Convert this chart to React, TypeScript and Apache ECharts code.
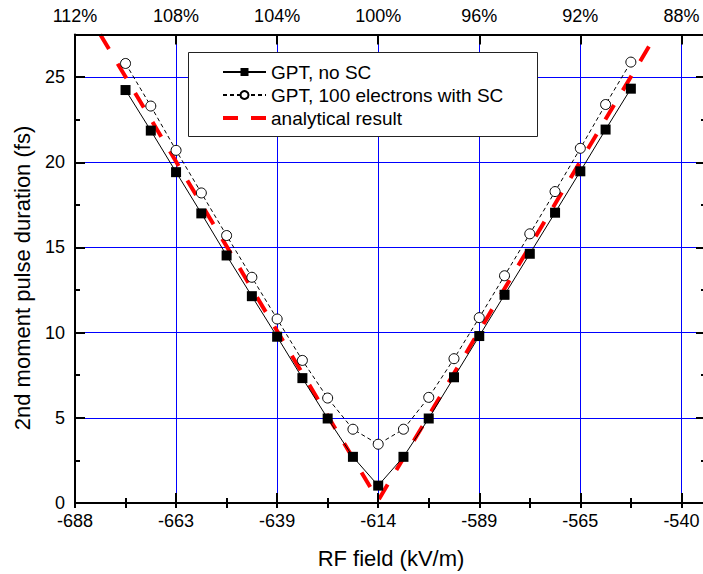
import React, { useEffect, useRef } from 'react';
import * as echarts from 'echarts';

// RF field values (kV/m) at 110% ... 90% of -614 kV/m
const rfField = [
  -675.4, -669.26, -663.12, -656.98, -650.84, -644.7, -638.56, -632.42, -626.28, -620.14,
  -614, -607.86, -601.72, -595.58, -589.44, -583.3, -577.16, -571.02, -564.88, -558.74, -552.6,
];
const gptNoSC = [
  24.24, 21.86, 19.42, 17.0, 14.53, 12.14, 9.76, 7.33, 4.96, 2.71,
  1.02, 2.71, 4.96, 7.38, 9.8, 12.22, 14.63, 17.04, 19.47, 21.92, 24.32,
];
const gptSC = [
  25.8, 23.3, 20.7, 18.2, 15.7, 13.25, 10.8, 8.37, 6.16, 4.33,
  3.45, 4.33, 6.2, 8.47, 10.88, 13.34, 15.8, 18.28, 20.82, 23.39, 25.88,
];
const analyticalField = [-681.54, -614, -546.46];
const analyticalValue = [27.5, 0.15, 27.5];

const bottomTickLabels = ['-688', '-663', '-639', '-614', '-589', '-565', '-540'];
const topTickLabels = ['112%', '108%', '104%', '100%', '96%', '92%', '88%'];
const yTickLabels = ['0', '5', '10', '15', '20', '25'];
const seriesNames = ['GPT, no SC', 'GPT, 100 electrons with SC', 'analytical result'];
const xTitle = 'RF field (kV/m)';
const yTitle = '2nd moment pulse duration (fs)';

const X_MIN = -687.68;
const X_MAX = -534.34;
const X_STEP = 24.56;
const Y_MIN = 0;
const Y_MAX = 27.5;
const Y_STEP = 5;

const FONT = '"Liberation Sans", Arial, Helvetica, sans-serif';

const pick = (labels: string[], min: number, step: number) => (v: number) => {
  const i = Math.round((v - min) / step);
  if (Math.abs(v - (min + i * step)) > 0.05) return '';
  return labels[i] ?? '';
};

export default function App() {
  const ref = useRef<HTMLDivElement>(null);

  useEffect(() => {
    document.body.style.margin = '0';
    if (!ref.current) return;
    const chart = echarts.init(ref.current, undefined, { renderer: 'svg' });

    const gridBox = { left: 75, right: -3, top: 34.5, bottom: 71, containLabel: false, outerBoundsMode: 'none' };
    const black = '#000';
    const blue = '#0000ff';

    const xBase = { type: 'value', min: X_MIN, max: X_MAX };
    const yBase = { type: 'value', min: Y_MIN, max: Y_MAX };
    const hidden = {
      axisLine: { show: false },
      axisTick: { show: false },
      axisLabel: { show: false },
      splitLine: { show: false },
    };
    const majorTick = { show: true, inside: true, length: 10, lineStyle: { color: black, width: 2 } };
    const minorTick = { show: true, inside: true, length: 5, lineStyle: { color: black, width: 2 } };
    const axisLine = { show: true, onZero: false, lineStyle: { color: black, width: 2 } };
    const labelStyle = { color: black, fontSize: 18, fontFamily: FONT };

    const option: any = {
      animation: false,
      backgroundColor: '#fff',
      grid: [gridBox, gridBox, gridBox],
      xAxis: [
        { ...xBase, ...hidden, gridIndex: 0, position: 'bottom', interval: X_STEP,
          splitLine: { show: true, lineStyle: { color: blue, width: 1 } } },
        { ...xBase, ...hidden, gridIndex: 1, position: 'bottom', interval: X_STEP, z: 3,
          axisLine, axisTick: majorTick,
          axisLabel: { show: true, margin: 9, ...labelStyle, formatter: pick(bottomTickLabels, X_MIN, X_STEP) } },
        { ...xBase, ...hidden, gridIndex: 1, position: 'top', interval: X_STEP, z: 3,
          axisLine, axisTick: majorTick,
          axisLabel: { show: true, margin: 10, ...labelStyle, formatter: pick(topTickLabels, X_MIN, X_STEP) } },
        { ...xBase, ...hidden, gridIndex: 2, position: 'bottom', interval: X_STEP / 2, z: 3, axisTick: minorTick },
        { ...xBase, ...hidden, gridIndex: 2, position: 'top', interval: X_STEP / 2, z: 3, axisTick: minorTick },
      ],
      yAxis: [
        { ...yBase, ...hidden, gridIndex: 0, position: 'left', interval: Y_STEP,
          splitLine: { show: true, lineStyle: { color: blue, width: 1 } } },
        { ...yBase, ...hidden, gridIndex: 1, position: 'left', interval: Y_STEP, z: 3,
          axisLine, axisTick: majorTick,
          axisLabel: { show: true, margin: 10, ...labelStyle, formatter: pick(yTickLabels, Y_MIN, Y_STEP) } },
        { ...yBase, ...hidden, gridIndex: 1, position: 'right', interval: Y_STEP, z: 3,
          axisLine, axisTick: majorTick },
        { ...yBase, ...hidden, gridIndex: 2, position: 'left', interval: Y_STEP / 2, z: 3, axisTick: minorTick },
        { ...yBase, ...hidden, gridIndex: 2, position: 'right', interval: Y_STEP / 2, z: 3, axisTick: minorTick },
      ],
      graphic: [
        {
          type: 'rect',
          z: 8,
          shape: { x: 188.5, y: 52.5, width: 349, height: 84 },
          style: { fill: '#fff', stroke: '#222', lineWidth: 1 },
        },
        {
          type: 'text',
          x: 391,
          y: 558,
          style: { text: xTitle, font: `22px ${FONT}`, fill: black, textAlign: 'center', textVerticalAlign: 'middle' },
        },
        {
          type: 'text',
          x: 22,
          y: 278,
          rotation: Math.PI / 2,
          style: { text: yTitle, font: `22px ${FONT}`, fill: black, textAlign: 'center', textVerticalAlign: 'middle' },
        },
      ],
      legend: {
        orient: 'vertical',
        left: 188,
        top: 51.5,
        z: 20,
        backgroundColor: 'transparent',
        borderWidth: 0,
        padding: [11, 10, 8, 34],
        itemWidth: 43,
        itemHeight: 10,
        itemGap: 4,
        selectedMode: false,
        textStyle: { color: black, fontSize: 19, fontFamily: FONT },
        data: [
          { name: seriesNames[0] },
          { name: seriesNames[1] },
          { name: seriesNames[2], icon: 'path://M0,0h15v4h-15zM28,0h15v4h-15z' },
        ],
      },
      series: [
        {
          name: seriesNames[2],
          type: 'line',
          xAxisIndex: 0,
          yAxisIndex: 0,
          data: analyticalField.map((x, i) => [x, analyticalValue[i]]),
          symbol: 'none',
          clip: true,
          lineStyle: { color: '#ff0000', width: 4, type: [17, 17] },
          itemStyle: { color: '#ff0000' },
          z: 2,
        },
        {
          name: seriesNames[1],
          type: 'line',
          xAxisIndex: 0,
          yAxisIndex: 0,
          data: rfField.map((x, i) => [x, gptSC[i]]),
          symbol: 'circle',
          symbolSize: 10,
          lineStyle: { color: black, width: 1, type: [4, 3] },
          itemStyle: { color: '#fff', borderColor: black, borderWidth: 1 },
          z: 3,
        },
        {
          name: seriesNames[0],
          type: 'line',
          xAxisIndex: 0,
          yAxisIndex: 0,
          data: rfField.map((x, i) => [x, gptNoSC[i]]),
          symbol: 'rect',
          symbolSize: 10,
          lineStyle: { color: black, width: 1 },
          itemStyle: { color: black },
          z: 4,
        },
      ],
    };

    chart.setOption(option);
    return () => chart.dispose();
  }, []);

  return <div ref={ref} style={{ width: 703, height: 574 }} />;
}
